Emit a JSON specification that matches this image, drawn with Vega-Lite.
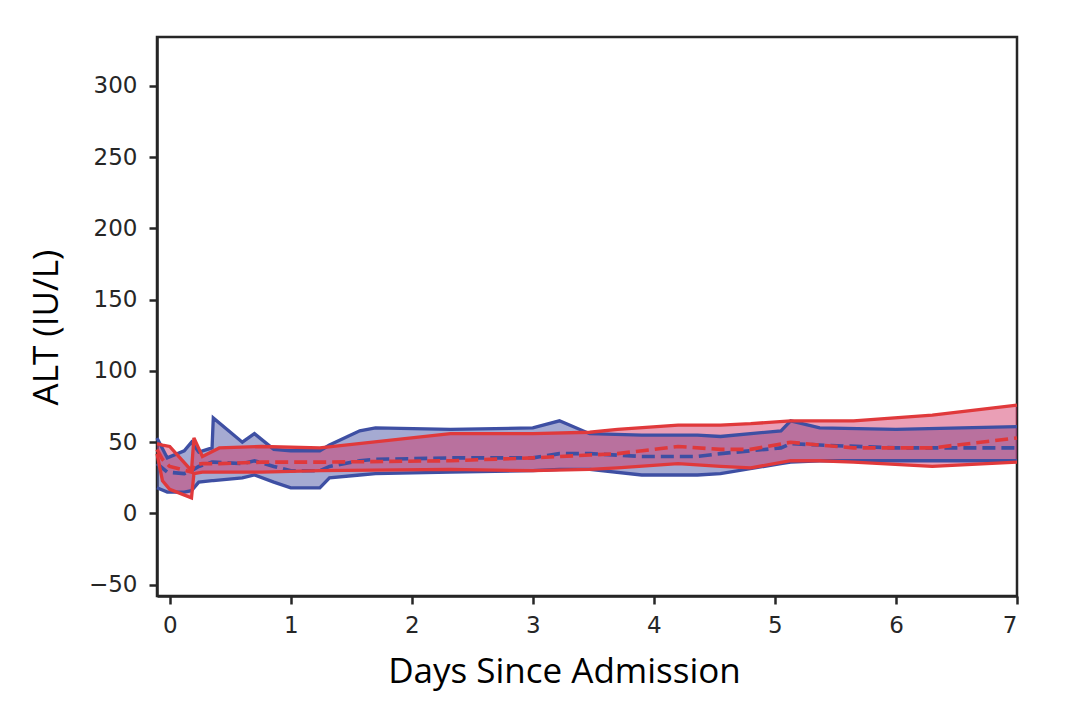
{
  "$schema": "https://vega.github.io/schema/vega-lite/v6.json",
  "width": 860,
  "height": 559,
  "autosize": "none",
  "padding": {"left": 157, "top": 37, "right": 49, "bottom": 116},
  "background": "white",
  "config": {
    "view": {"stroke": "#262626", "strokeWidth": 2.5},
    "axis": {
      "grid": false,
      "domainColor": "#262626",
      "domainWidth": 2.5,
      "tickColor": "#262626",
      "tickWidth": 2.5,
      "tickSize": 8,
      "labelFont": "DejaVu Sans",
      "labelFontSize": 23,
      "labelColor": "#262626",
      "titleFont": "Open Sans",
      "titleFontSize": 35,
      "titleFontWeight": "normal",
      "titleColor": "#000000"
    }
  },
  "data": {
    "values": [
      {"group": "blue", "day": -0.105, "lo": 18, "mean": 35, "hi": 53},
      {"group": "blue", "day": -0.02, "lo": 15, "mean": 29, "hi": 39},
      {"group": "blue", "day": 0.12, "lo": 15, "mean": 28, "hi": 44},
      {"group": "blue", "day": 0.18, "lo": 16, "mean": 30, "hi": 50},
      {"group": "blue", "day": 0.24, "lo": 22, "mean": 33, "hi": 43},
      {"group": "blue", "day": 0.35, "lo": 23, "mean": 36, "hi": 46},
      {"group": "blue", "day": 0.36, "lo": 23, "mean": 36, "hi": 67},
      {"group": "blue", "day": 0.6, "lo": 25, "mean": 35, "hi": 50},
      {"group": "blue", "day": 0.7, "lo": 27, "mean": 37, "hi": 56},
      {"group": "blue", "day": 0.86, "lo": 22, "mean": 33, "hi": 45},
      {"group": "blue", "day": 1.0, "lo": 18, "mean": 30, "hi": 44},
      {"group": "blue", "day": 1.24, "lo": 18, "mean": 30, "hi": 44},
      {"group": "blue", "day": 1.32, "lo": 25, "mean": 33, "hi": 48},
      {"group": "blue", "day": 1.57, "lo": 27, "mean": 37, "hi": 58},
      {"group": "blue", "day": 1.7, "lo": 28, "mean": 38, "hi": 60},
      {"group": "blue", "day": 2.32, "lo": 29, "mean": 39, "hi": 59},
      {"group": "blue", "day": 3.0, "lo": 30, "mean": 39, "hi": 60},
      {"group": "blue", "day": 3.22, "lo": 31, "mean": 42, "hi": 65},
      {"group": "blue", "day": 3.47, "lo": 31, "mean": 42, "hi": 56},
      {"group": "blue", "day": 3.9, "lo": 27, "mean": 40, "hi": 55},
      {"group": "blue", "day": 4.36, "lo": 27, "mean": 40, "hi": 55},
      {"group": "blue", "day": 4.55, "lo": 28, "mean": 42, "hi": 54},
      {"group": "blue", "day": 5.05, "lo": 35, "mean": 46, "hi": 58},
      {"group": "blue", "day": 5.13, "lo": 36, "mean": 49, "hi": 65},
      {"group": "blue", "day": 5.37, "lo": 37, "mean": 48, "hi": 60},
      {"group": "blue", "day": 6.0, "lo": 37, "mean": 46, "hi": 59},
      {"group": "blue", "day": 7.0, "lo": 37, "mean": 46, "hi": 61},
      {"group": "red", "day": -0.105, "lo": 42, "mean": 45, "hi": 49},
      {"group": "red", "day": -0.06, "lo": 23, "mean": 38, "hi": 48},
      {"group": "red", "day": 0.0, "lo": 17, "mean": 33, "hi": 47},
      {"group": "red", "day": 0.18, "lo": 11, "mean": 29, "hi": 30},
      {"group": "red", "day": 0.2, "lo": 28, "mean": 34, "hi": 53},
      {"group": "red", "day": 0.27, "lo": 29, "mean": 35, "hi": 40},
      {"group": "red", "day": 0.41, "lo": 29, "mean": 35, "hi": 46},
      {"group": "red", "day": 0.76, "lo": 29, "mean": 36, "hi": 47},
      {"group": "red", "day": 1.24, "lo": 30, "mean": 36, "hi": 46},
      {"group": "red", "day": 2.32, "lo": 31, "mean": 37, "hi": 56},
      {"group": "red", "day": 3.0, "lo": 30, "mean": 39, "hi": 56},
      {"group": "red", "day": 3.47, "lo": 31, "mean": 41, "hi": 57},
      {"group": "red", "day": 3.7, "lo": 32, "mean": 42, "hi": 59},
      {"group": "red", "day": 4.2, "lo": 35, "mean": 47, "hi": 62},
      {"group": "red", "day": 4.55, "lo": 33, "mean": 45, "hi": 62},
      {"group": "red", "day": 4.8, "lo": 32, "mean": 45, "hi": 63},
      {"group": "red", "day": 5.13, "lo": 37, "mean": 50, "hi": 65},
      {"group": "red", "day": 5.37, "lo": 37, "mean": 48, "hi": 65},
      {"group": "red", "day": 5.65, "lo": 36, "mean": 46, "hi": 65},
      {"group": "red", "day": 6.3, "lo": 33, "mean": 46, "hi": 69},
      {"group": "red", "day": 7.0, "lo": 36, "mean": 53, "hi": 76}
    ]
  },
  "encoding": {
    "x": {
      "field": "day",
      "type": "quantitative",
      "scale": {"domain": [-0.105, 7], "nice": false, "zero": false},
      "axis": {
        "values": [0, 1, 2, 3, 4, 5, 6, 7],
        "format": "d",
        "labelPadding": 10,
        "title": "Days Since Admission",
        "titleX": 407,
        "titleY": 86,
        "titleBaseline": "alphabetic"
      }
    }
  },
  "layer": [
    {
      "transform": [{"filter": "datum.group === 'blue'"}],
      "mark": {"type": "area", "color": "#4b55a5", "opacity": 0.5},
      "encoding": {
        "y": {
          "field": "lo",
          "type": "quantitative",
          "scale": {"domain": [-57.9, 334.3], "nice": false, "zero": false},
          "axis": {
            "values": [-50, 0, 50, 100, 150, 200, 250, 300],
            "format": "d",
            "labelPadding": 12,
            "title": "ALT (IU/L)",
            "titleX": -100,
            "titleY": 290,
            "titleBaseline": "alphabetic"
          }
        },
        "y2": {"field": "hi"}
      }
    },
    {
      "transform": [{"filter": "datum.group === 'red'"}],
      "mark": {"type": "area", "color": "#d22d5f", "opacity": 0.46},
      "encoding": {
        "y": {"field": "lo", "type": "quantitative"},
        "y2": {"field": "hi"}
      }
    },
    {
      "transform": [{"filter": "datum.group === 'blue'"}],
      "mark": {"type": "line", "color": "#3e4fa3", "strokeWidth": 3.3},
      "encoding": {"y": {"field": "hi", "type": "quantitative"}}
    },
    {
      "transform": [{"filter": "datum.group === 'blue'"}],
      "mark": {"type": "line", "color": "#3e4fa3", "strokeWidth": 3.3},
      "encoding": {"y": {"field": "lo", "type": "quantitative"}}
    },
    {
      "transform": [{"filter": "datum.group === 'blue'"}],
      "mark": {"type": "line", "color": "#3e4fa3", "strokeWidth": 3.6, "strokeDash": [13, 6]},
      "encoding": {"y": {"field": "mean", "type": "quantitative"}}
    },
    {
      "transform": [{"filter": "datum.group === 'red'"}],
      "mark": {"type": "line", "color": "#e0393b", "strokeWidth": 3.3},
      "encoding": {"y": {"field": "hi", "type": "quantitative"}}
    },
    {
      "transform": [{"filter": "datum.group === 'red'"}],
      "mark": {"type": "line", "color": "#e0393b", "strokeWidth": 3.3},
      "encoding": {"y": {"field": "lo", "type": "quantitative"}}
    },
    {
      "transform": [{"filter": "datum.group === 'red'"}],
      "mark": {"type": "line", "color": "#e0393b", "strokeWidth": 3.6, "strokeDash": [13, 6]},
      "encoding": {"y": {"field": "mean", "type": "quantitative"}}
    }
  ]
}
